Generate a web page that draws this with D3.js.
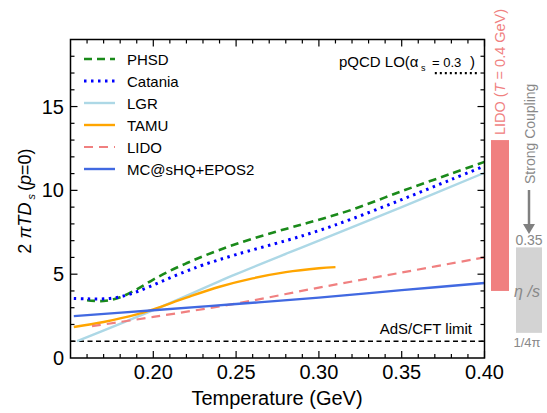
<!DOCTYPE html>
<html><head><meta charset="utf-8">
<script src="https://cdn.jsdelivr.net/npm/d3@7"></script>
<style>body{margin:0;background:#fff;} text{font-family:"Liberation Sans",Arial,sans-serif;}</style>
</head><body><svg id="c" width="547" height="413"></svg>
<script>
const phsdT = [0.16,0.17,0.18,0.19,0.20,0.21,0.22,0.23,0.25,0.28,0.30,0.32,0.35,0.38,0.40];
const phsdV = [3.45,3.40,3.62,4.1,4.68,5.2,5.65,6.07,6.8,7.7,8.25,8.85,9.95,11.0,11.7];
const cataniaT = [0.152,0.16,0.17,0.18,0.19,0.20,0.21,0.22,0.23,0.25,0.28,0.30,0.32,0.35,0.38,0.40];
const cataniaV = [3.55,3.53,3.53,3.65,3.95,4.35,4.78,5.18,5.55,6.17,7.0,7.6,8.3,9.45,10.65,11.45];
const lgrT = [0.154,0.20,0.25,0.30,0.35,0.40];
const lgrV = [1.0,2.85,5.0,7.0,9.0,11.05];
const tamuT = [0.152,0.17,0.19,0.20,0.22,0.24,0.26,0.28,0.30,0.31];
const tamuV = [1.85,2.15,2.6,2.9,3.6,4.25,4.75,5.12,5.35,5.42];
const lidoT = [0.163,0.20,0.25,0.30,0.35,0.40];
const lidoV = [1.9,2.45,3.25,4.2,5.1,6.0];
const mcT = [0.152,0.20,0.25,0.30,0.35,0.40];
const mcV = [2.5,2.85,3.22,3.6,4.05,4.47];
const pqcdT = [0.370,0.396];
const pqcdV = [17,17];
const adsT = [0.15,0.40];
const adsV = [1,1];
const lidoRange = [4,13];
const etaRange = [1.5,6.6];
const xTicks = [0.20,0.25,0.30,0.35,0.40];
const yTicks = [0,5,10,15];
const seriesNames = ["PHSD","Catania","LGR","TAMU","LIDO","MC@sHQ+EPOS2"];

const svg = d3.select("#c");
const L=70.5,R=484.5,T=39.5,B=358;
const x = d3.scaleLinear().domain([0.15,0.40]).range([L,R]);
const y = d3.scaleLinear().domain([0,19]).range([B,T]);

const styles = [
 {c:"#1a8a1a",w:2.6,d:"8,5"},
 {c:"#0000ff",w:3,d:"2.5,4.5"},
 {c:"#add8e6",w:2.4,d:null},
 {c:"#ffa500",w:2.4,d:null},
 {c:"#f08080",w:2.2,d:"9,6"},
 {c:"#4169e1",w:2.4,d:null}
];
const data = [[phsdT,phsdV],[cataniaT,cataniaV],[lgrT,lgrV],[tamuT,tamuV],[lidoT,lidoV],[mcT,mcV]];
const line = d3.line().x(d=>x(d[0])).y(d=>y(d[1])).curve(d3.curveCatmullRom.alpha(0.5));

// AdS/CFT limit
svg.append("path").attr("d",d3.line().x(d=>x(d[0])).y(d=>y(d[1]))(d3.zip(adsT,adsV)))
 .attr("stroke","#000").attr("stroke-width",1.6).attr("stroke-dasharray","5,3.5").attr("fill","none");
svg.append("text").attr("x",472).attr("y",334).attr("text-anchor","end").attr("font-size",15).text("AdS/CFT limit");
// pQCD
svg.append("path").attr("d",d3.line().x(d=>x(d[0])).y(d=>y(d[1]))(d3.zip(pqcdT,pqcdV)))
 .attr("stroke","#000").attr("stroke-width",2.2).attr("stroke-dasharray","2,3").attr("fill","none");
svg.append("text").attr("x",339).attr("y",67).attr("font-size",15).text("pQCD LO(α");
svg.append("text").attr("x",421).attr("y",71).attr("font-size",9).text("s");
svg.append("text").attr("x",432).attr("y",67).attr("font-size",13).text("= 0.3");
svg.append("text").attr("x",470).attr("y",67).attr("font-size",15).text(")");

// series
data.forEach((s,i)=>{
  const st=styles[i];
  const p=svg.append("path").attr("d",line(d3.zip(s[0],s[1]))).attr("fill","none")
   .attr("stroke",st.c).attr("stroke-width",st.w);
  if(st.d) p.attr("stroke-dasharray",st.d);
});

// frame & ticks
const g=svg.append("g");
g.append("rect").attr("x",L).attr("y",T).attr("width",R-L).attr("height",B-T).attr("fill","none").attr("stroke","#000").attr("stroke-width",1.5);
const xMinor=d3.range(0.16,0.4001,0.01);
xMinor.forEach(v=>{
  const major = xTicks.some(t=>Math.abs(t-v)<1e-6);
  const len = major?7:4;
  g.append("line").attr("x1",x(v)).attr("x2",x(v)).attr("y1",B).attr("y2",B-len).attr("stroke","#000").attr("stroke-width",1.2);
  g.append("line").attr("x1",x(v)).attr("x2",x(v)).attr("y1",T).attr("y2",T+len).attr("stroke","#000").attr("stroke-width",1.2);
});
d3.range(1,19).forEach(v=>{
  const len = v%5===0?7:4;
  g.append("line").attr("x1",L).attr("x2",L+len).attr("y1",y(v)).attr("y2",y(v)).attr("stroke","#000").attr("stroke-width",1.2);
  g.append("line").attr("x1",R).attr("x2",R-len).attr("y1",y(v)).attr("y2",y(v)).attr("stroke","#000").attr("stroke-width",1.2);
});
xTicks.forEach(v=>{
  svg.append("text").attr("x",x(v)).attr("y",379).attr("text-anchor","middle").attr("font-size",20).text(v.toFixed(2));
});
yTicks.forEach(v=>{
  svg.append("text").attr("x",64).attr("y",y(v)+7).attr("text-anchor","end").attr("font-size",20).text(v);
});
svg.append("text").attr("x",277).attr("y",405).attr("text-anchor","middle").attr("font-size",20).text("Temperature (GeV)");
const yl=svg.append("text").attr("transform","translate(31,201) rotate(-90)").attr("text-anchor","middle").attr("font-size",18);
yl.append("tspan").text("2 ");
yl.append("tspan").attr("font-style","italic").text("πTD");
yl.append("tspan").attr("font-size",11).attr("dy",4).attr("font-style","italic").text("  s  ");
yl.append("tspan").attr("dy",-4).text(" (");
yl.append("tspan").attr("font-style","italic").text("p");
yl.append("tspan").text("=0)");

// legend
seriesNames.forEach((n,i)=>{
  const yy=59+i*22, st=styles[i];
  const l=svg.append("line").attr("x1",84).attr("x2",115).attr("y1",yy).attr("y2",yy).attr("stroke",st.c).attr("stroke-width",st.w);
  if(st.d) l.attr("stroke-dasharray",st.d);
  svg.append("text").attr("x",127).attr("y",yy+5.5).attr("font-size",15).text(n);
});

// right annotations
svg.append("rect").attr("x",491).attr("width",18).attr("y",y(lidoRange[1])).attr("height",y(lidoRange[0])-y(lidoRange[1])).attr("fill","#f08080");
const lt=svg.append("text").attr("transform","translate(505,135) rotate(-90)").attr("font-size",14.5).attr("fill","#f08080");
lt.append("tspan").text("LIDO (");
lt.append("tspan").attr("font-style","italic").text("T");
lt.append("tspan").text(" = 0.4  GeV)");
svg.append("rect").attr("x",516).attr("width",26).attr("y",y(etaRange[1])).attr("height",y(etaRange[0])-y(etaRange[1])).attr("fill","#d3d3d3");
svg.append("text").attr("transform","translate(535,184) rotate(-90)").attr("font-size",14).attr("fill","#888").text("Strong Coupling");
svg.append("line").attr("x1",529).attr("x2",529).attr("y1",190).attr("y2",226).attr("stroke","#808080").attr("stroke-width",2.5);
svg.append("path").attr("d","M523,224 L535,224 L529,234 Z").attr("fill","#808080");
svg.append("text").attr("x",529).attr("y",245).attr("text-anchor","middle").attr("font-size",14).attr("fill","#888").text("0.35");
svg.append("text").attr("x",527).attr("y",347).attr("text-anchor","middle").attr("font-size",13).attr("fill","#888").text("1/4π");
svg.append("text").attr("x",527).attr("y",297).attr("text-anchor","middle").attr("font-size",16).attr("font-style","italic").attr("fill","#888").text("η /s");
</script></body></html>
